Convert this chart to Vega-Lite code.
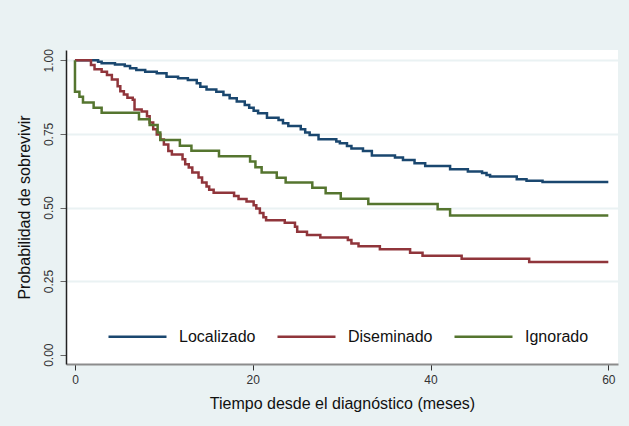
{
  "$schema": "https://vega.github.io/schema/vega-lite/v6.json",
  "width": 552,
  "height": 314,
  "autosize": {"type": "none"},
  "padding": {"left": 66, "top": 50, "right": 11, "bottom": 62},
  "background": "#eaf2f3",
  "config": {
    "view": {"fill": "white", "stroke": null},
    "font": "Liberation Sans"
  },
  "data": {
    "values": [
      {"g": "Localizado", "i": 0, "t": 0, "s": 1.0},
      {"g": "Localizado", "i": 1, "t": 2.6, "s": 0.995},
      {"g": "Localizado", "i": 2, "t": 3.0, "s": 0.99},
      {"g": "Localizado", "i": 3, "t": 4.5, "s": 0.986},
      {"g": "Localizado", "i": 4, "t": 5.6, "s": 0.981},
      {"g": "Localizado", "i": 5, "t": 6.2, "s": 0.973},
      {"g": "Localizado", "i": 6, "t": 6.9, "s": 0.967},
      {"g": "Localizado", "i": 7, "t": 7.9, "s": 0.961},
      {"g": "Localizado", "i": 8, "t": 9.2, "s": 0.956},
      {"g": "Localizado", "i": 9, "t": 10.3, "s": 0.944},
      {"g": "Localizado", "i": 10, "t": 11.6, "s": 0.939},
      {"g": "Localizado", "i": 11, "t": 12.7, "s": 0.933},
      {"g": "Localizado", "i": 12, "t": 13.7, "s": 0.922},
      {"g": "Localizado", "i": 13, "t": 14.1, "s": 0.91},
      {"g": "Localizado", "i": 14, "t": 14.8, "s": 0.901},
      {"g": "Localizado", "i": 15, "t": 15.9, "s": 0.893},
      {"g": "Localizado", "i": 16, "t": 16.7, "s": 0.882},
      {"g": "Localizado", "i": 17, "t": 17.4, "s": 0.871},
      {"g": "Localizado", "i": 18, "t": 18.2, "s": 0.86},
      {"g": "Localizado", "i": 19, "t": 19.1, "s": 0.848},
      {"g": "Localizado", "i": 20, "t": 19.6, "s": 0.839},
      {"g": "Localizado", "i": 21, "t": 20.1, "s": 0.829},
      {"g": "Localizado", "i": 22, "t": 20.6, "s": 0.82},
      {"g": "Localizado", "i": 23, "t": 21.6, "s": 0.805},
      {"g": "Localizado", "i": 24, "t": 22.9, "s": 0.797},
      {"g": "Localizado", "i": 25, "t": 23.4, "s": 0.786},
      {"g": "Localizado", "i": 26, "t": 24.0, "s": 0.777},
      {"g": "Localizado", "i": 27, "t": 25.4, "s": 0.766},
      {"g": "Localizado", "i": 28, "t": 25.9, "s": 0.755},
      {"g": "Localizado", "i": 29, "t": 26.4, "s": 0.746},
      {"g": "Localizado", "i": 30, "t": 27.4, "s": 0.732},
      {"g": "Localizado", "i": 31, "t": 29.4, "s": 0.724},
      {"g": "Localizado", "i": 32, "t": 29.8, "s": 0.718},
      {"g": "Localizado", "i": 33, "t": 30.6, "s": 0.709},
      {"g": "Localizado", "i": 34, "t": 31.1, "s": 0.7},
      {"g": "Localizado", "i": 35, "t": 32.4, "s": 0.692},
      {"g": "Localizado", "i": 36, "t": 33.4, "s": 0.677},
      {"g": "Localizado", "i": 37, "t": 36.0, "s": 0.67},
      {"g": "Localizado", "i": 38, "t": 36.9, "s": 0.661},
      {"g": "Localizado", "i": 39, "t": 38.2, "s": 0.65},
      {"g": "Localizado", "i": 40, "t": 39.4, "s": 0.641},
      {"g": "Localizado", "i": 41, "t": 42.2, "s": 0.63},
      {"g": "Localizado", "i": 42, "t": 44.2, "s": 0.622},
      {"g": "Localizado", "i": 43, "t": 45.8, "s": 0.617},
      {"g": "Localizado", "i": 44, "t": 46.3, "s": 0.61},
      {"g": "Localizado", "i": 45, "t": 46.7, "s": 0.605},
      {"g": "Localizado", "i": 46, "t": 49.7, "s": 0.596},
      {"g": "Localizado", "i": 47, "t": 50.8, "s": 0.591},
      {"g": "Localizado", "i": 48, "t": 52.6, "s": 0.587},
      {"g": "Localizado", "i": 49, "t": 60, "s": 0.587},
      {"g": "Diseminado", "i": 0, "t": 0, "s": 1.0},
      {"g": "Diseminado", "i": 1, "t": 1.8, "s": 0.984},
      {"g": "Diseminado", "i": 2, "t": 2.2, "s": 0.97},
      {"g": "Diseminado", "i": 3, "t": 3.0, "s": 0.961},
      {"g": "Diseminado", "i": 4, "t": 3.6, "s": 0.95},
      {"g": "Diseminado", "i": 5, "t": 4.15, "s": 0.935},
      {"g": "Diseminado", "i": 6, "t": 4.8, "s": 0.912},
      {"g": "Diseminado", "i": 7, "t": 5.1, "s": 0.895},
      {"g": "Diseminado", "i": 8, "t": 5.5, "s": 0.884},
      {"g": "Diseminado", "i": 9, "t": 5.9, "s": 0.873},
      {"g": "Diseminado", "i": 10, "t": 6.5, "s": 0.866},
      {"g": "Diseminado", "i": 11, "t": 6.7, "s": 0.833},
      {"g": "Diseminado", "i": 12, "t": 7.5, "s": 0.826},
      {"g": "Diseminado", "i": 13, "t": 8.1, "s": 0.81},
      {"g": "Diseminado", "i": 14, "t": 8.4, "s": 0.789},
      {"g": "Diseminado", "i": 15, "t": 8.8, "s": 0.766},
      {"g": "Diseminado", "i": 16, "t": 9.2, "s": 0.748},
      {"g": "Diseminado", "i": 17, "t": 9.6, "s": 0.731},
      {"g": "Diseminado", "i": 18, "t": 10.0, "s": 0.714},
      {"g": "Diseminado", "i": 19, "t": 10.5, "s": 0.692},
      {"g": "Diseminado", "i": 20, "t": 10.9, "s": 0.68},
      {"g": "Diseminado", "i": 21, "t": 12.1, "s": 0.664},
      {"g": "Diseminado", "i": 22, "t": 12.4, "s": 0.647},
      {"g": "Diseminado", "i": 23, "t": 12.8, "s": 0.636},
      {"g": "Diseminado", "i": 24, "t": 13.2, "s": 0.619},
      {"g": "Diseminado", "i": 25, "t": 13.9, "s": 0.602},
      {"g": "Diseminado", "i": 26, "t": 14.3, "s": 0.585},
      {"g": "Diseminado", "i": 27, "t": 14.8, "s": 0.571},
      {"g": "Diseminado", "i": 28, "t": 15.1, "s": 0.56},
      {"g": "Diseminado", "i": 29, "t": 15.6, "s": 0.55},
      {"g": "Diseminado", "i": 30, "t": 17.9, "s": 0.539},
      {"g": "Diseminado", "i": 31, "t": 18.4, "s": 0.529},
      {"g": "Diseminado", "i": 32, "t": 19.3, "s": 0.52},
      {"g": "Diseminado", "i": 33, "t": 20.1, "s": 0.508},
      {"g": "Diseminado", "i": 34, "t": 20.4, "s": 0.497},
      {"g": "Diseminado", "i": 35, "t": 20.8, "s": 0.481},
      {"g": "Diseminado", "i": 36, "t": 21.2, "s": 0.467},
      {"g": "Diseminado", "i": 37, "t": 21.5, "s": 0.457},
      {"g": "Diseminado", "i": 38, "t": 23.6, "s": 0.448},
      {"g": "Diseminado", "i": 39, "t": 24.75, "s": 0.435},
      {"g": "Diseminado", "i": 40, "t": 25.0, "s": 0.418},
      {"g": "Diseminado", "i": 41, "t": 26.1, "s": 0.407},
      {"g": "Diseminado", "i": 42, "t": 27.6, "s": 0.398},
      {"g": "Diseminado", "i": 43, "t": 30.7, "s": 0.39},
      {"g": "Diseminado", "i": 44, "t": 31.1, "s": 0.378},
      {"g": "Diseminado", "i": 45, "t": 31.9, "s": 0.368},
      {"g": "Diseminado", "i": 46, "t": 34.3, "s": 0.358},
      {"g": "Diseminado", "i": 47, "t": 37.7, "s": 0.346},
      {"g": "Diseminado", "i": 48, "t": 39.1, "s": 0.336},
      {"g": "Diseminado", "i": 49, "t": 43.5, "s": 0.326},
      {"g": "Diseminado", "i": 50, "t": 51.1, "s": 0.315},
      {"g": "Diseminado", "i": 51, "t": 60, "s": 0.315},
      {"g": "Ignorado", "i": 0, "t": 0, "s": 1.0},
      {"g": "Ignorado", "i": 1, "t": 0, "s": 0.893},
      {"g": "Ignorado", "i": 2, "t": 0.5, "s": 0.876},
      {"g": "Ignorado", "i": 3, "t": 0.9, "s": 0.857},
      {"g": "Ignorado", "i": 4, "t": 2.1, "s": 0.839},
      {"g": "Ignorado", "i": 5, "t": 3.0, "s": 0.822},
      {"g": "Ignorado", "i": 6, "t": 7.2, "s": 0.8},
      {"g": "Ignorado", "i": 7, "t": 8.4, "s": 0.78},
      {"g": "Ignorado", "i": 8, "t": 9.3, "s": 0.755},
      {"g": "Ignorado", "i": 9, "t": 9.6, "s": 0.729},
      {"g": "Ignorado", "i": 10, "t": 11.8, "s": 0.71},
      {"g": "Ignorado", "i": 11, "t": 13.1, "s": 0.693},
      {"g": "Ignorado", "i": 12, "t": 16.2, "s": 0.674},
      {"g": "Ignorado", "i": 13, "t": 19.7, "s": 0.656},
      {"g": "Ignorado", "i": 14, "t": 20.3, "s": 0.637},
      {"g": "Ignorado", "i": 15, "t": 21.0, "s": 0.619},
      {"g": "Ignorado", "i": 16, "t": 22.7, "s": 0.601},
      {"g": "Ignorado", "i": 17, "t": 23.7, "s": 0.585},
      {"g": "Ignorado", "i": 18, "t": 26.7, "s": 0.567},
      {"g": "Ignorado", "i": 19, "t": 28.2, "s": 0.548},
      {"g": "Ignorado", "i": 20, "t": 29.9, "s": 0.53},
      {"g": "Ignorado", "i": 21, "t": 33.0, "s": 0.512},
      {"g": "Ignorado", "i": 22, "t": 40.8, "s": 0.494},
      {"g": "Ignorado", "i": 23, "t": 42.2, "s": 0.473},
      {"g": "Ignorado", "i": 24, "t": 60, "s": 0.473}
    ]
  },
  "mark": {"type": "line", "interpolate": "step-after", "strokeWidth": 2.5},
  "encoding": {
    "x": {
      "field": "t",
      "type": "quantitative",
      "scale": {"domain": [-1.01, 61.09], "nice": false, "zero": false},
      "axis": {
        "values": [0, 20, 40, 60],
        "format": "d",
        "title": "Tiempo desde el diagnóstico (meses)",
        "titleFont": "Liberation Sans",
        "titleFontSize": 16,
        "titleFontWeight": "normal",
        "titleColor": "#111111",
        "titlePadding": 10,
        "labelFontSize": 12,
        "labelColor": "#333333",
        "labelPadding": 4,
        "grid": false,
        "domainColor": "#8c8c8c",
        "domainWidth": 2,
        "tickColor": "#333333",
        "tickSize": 6,
        "tickWidth": 1
      }
    },
    "y": {
      "field": "s",
      "type": "quantitative",
      "scale": {"domain": [-0.0316, 1.035], "nice": false, "zero": false},
      "axis": {
        "values": [0, 0.25, 0.5, 0.75, 1],
        "format": ".2f",
        "title": "Probabilidad de sobrevivir",
        "titleFont": "Liberation Sans",
        "titleFontSize": 16,
        "titleFontWeight": "normal",
        "titleColor": "#111111",
        "titlePadding": 10,
        "labelFontSize": 12,
        "labelColor": "#333333",
        "labelAngle": 270,
        "labelAlign": "center",
        "labelBaseline": "bottom",
        "labelPadding": 5,
        "grid": true,
        "gridColor": "#eaf2f3",
        "gridWidth": 2,
        "gridOpacity": {"condition": {"test": "datum.value == 0", "value": 0}, "value": 1},
        "domainColor": "#222222",
        "domainWidth": 1.5,
        "tickColor": "#666666",
        "tickSize": 6,
        "tickWidth": 1
      }
    },
    "color": {
      "field": "g",
      "type": "nominal",
      "scale": {
        "domain": ["Localizado", "Diseminado", "Ignorado"],
        "range": ["#1a476f", "#90353b", "#55752f"]
      },
      "legend": {
        "title": null,
        "orient": "none",
        "direction": "horizontal",
        "legendX": 41,
        "legendY": 256,
        "symbolType": "stroke",
        "symbolSize": 3364,
        "symbolStrokeWidth": 2.5,
        "labelFontSize": 16,
        "labelColor": "#111111",
        "labelOffset": 11,
        "columnPadding": 16,
        "padding": 0
      }
    },
    "order": {"field": "i", "type": "quantitative"}
  }
}
